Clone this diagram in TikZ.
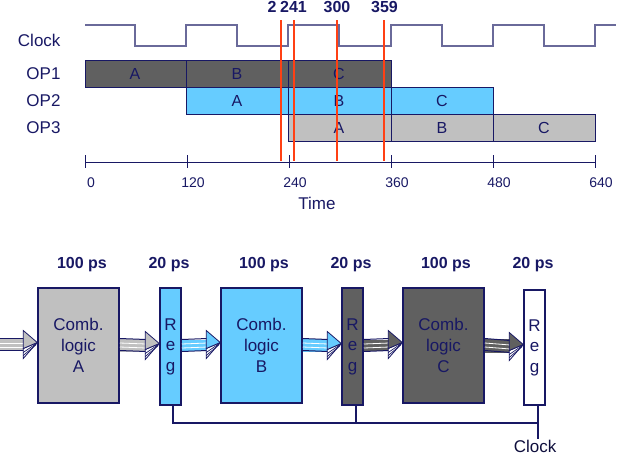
\documentclass[tikz,border=0pt]{standalone}
\usepackage{fontspec}
\setmainfont{Liberation Sans}
\usetikzlibrary{calc}
\definecolor{navy}{RGB}{24,24,100}
\definecolor{dgray}{RGB}{96,96,96}
\definecolor{lblue}{RGB}{102,204,255}
\definecolor{lgray}{RGB}{192,192,192}
\definecolor{redl}{RGB}{255,64,20}
\definecolor{clkc}{RGB}{106,106,154}
\newcommand{\fs}[1]{\fontsize{#1}{#1}\selectfont}
\tikzset{
  bar/.style={draw=navy, line width=1pt},
  barlbl/.style={text=navy, font=\fs{16}},
  rowlbl/.style={text=navy, font=\fs{17}, anchor=east},
  ticklbl/.style={text=navy, font=\fs{14}},
  toplbl/.style={text=navy, font=\bfseries\fs{16}, anchor=base},
  redline/.style={draw=redl, line width=1.6pt},
  comb/.style={draw=navy, line width=1.5pt, minimum width=81pt, minimum height=115pt, align=center, text=navy, font=\fontsize{17}{21}\selectfont, inner sep=0pt},
  reg/.style={draw=navy, line width=1.5pt, minimum width=21pt, minimum height=117pt, align=center, text=navy, font=\fontsize{17}{20.5}\selectfont, inner sep=0pt},
  delay/.style={text=navy, font=\bfseries\fs{16}},
  wire/.style={draw=navy, line width=1.3pt},
}
% fat arrow: from anchor #1 to anchor #2, colour #3
\newcommand{\fatarr}[3]{%
  \path (#1) coordinate (fa0) (#2) coordinate (fa1);
  \fill[#3] ($(fa0)+(0,-7)$) rectangle ($(fa1)+(-13,5)$);
  \draw[white, line width=0.8pt] ($(fa0)+(0,-2.5)$) -- ($(fa1)+(-13,-2.5)$);
  \draw[white, line width=0.8pt] ($(fa0)+(0,1.5)$) -- ($(fa1)+(-13,1.5)$);
  \draw[navy, line width=1pt] ($(fa0)+(0,-7)$) -- ($(fa1)+(-13,-7)$);
  \draw[navy, line width=1pt] ($(fa0)+(0,5)$) -- ($(fa1)+(-13,5)$);
  \filldraw[fill=white, draw=navy, line width=0.8pt, line join=miter] ($(fa1)+(-14,3)$) -- ($(fa1)+(0,-3)$) -- ($(fa1)+(-14,13)$) -- cycle;
  \draw[navy, line width=0.7pt] ($(fa1)+(-14,7)$) -- ($(fa1)+(-1,-2)$);
  \draw[navy, line width=0.7pt] ($(fa1)+(-14,10)$) -- ($(fa1)+(-1,-1)$);
  \filldraw[fill=#3, draw=navy, line width=0.8pt, line join=miter] ($(fa1)+(-14,-15)$) -- ($(fa1)+(0,-3)$) -- ($(fa1)+(-14,3)$) -- cycle;
}
\begin{document}
\begin{tikzpicture}[x=1pt,y=-1pt]
\useasboundingbox (0,0) rectangle (619,456);
% ---------- timing diagram ----------
\node[rowlbl] (lclk) at (64,40) {Clock};
\node[rowlbl] (lop1) at (64,74) {OP1};
\node[rowlbl] (lop2) at (64,101) {OP2};
\node[rowlbl] (lop3) at (64,128) {OP3};
% clock waveform
\draw[clkc, line width=1.2pt] (85,25) -- (135,25) -- (135,46) -- (186,46) -- (186,25) -- (237,25) -- (237,46) -- (288,46) -- (288,25) -- (339,25) -- (339,46) -- (391,46) -- (391,25) -- (442,25) -- (442,46) -- (493,46) -- (493,25) -- (544,25) -- (544,46) -- (595,46) -- (595,25) -- (616,25);
% OP1
\draw[bar, fill=dgray] (85,60) rectangle (186,87);
\draw[bar, fill=dgray] (186,60) rectangle (288,87);
\draw[bar, fill=dgray] (288,60) rectangle (391,87);
% OP2
\draw[bar, fill=lblue] (186,87) rectangle (288,114);
\draw[bar, fill=lblue] (288,87) rectangle (391,114);
\draw[bar, fill=lblue] (391,87) rectangle (493,114);
% OP3
\draw[bar, fill=lgray] (288,114) rectangle (391,141);
\draw[bar, fill=lgray] (391,114) rectangle (493,141);
\draw[bar, fill=lgray] (493,114) rectangle (595,141);
% bar labels
\node[barlbl] (o1a) at (135,74) {A};
\node[barlbl] (o1b) at (237,74) {B};
\node[barlbl] (o1c) at (339,74) {C};
\node[barlbl] (o2a) at (237,101) {A};
\node[barlbl] (o2b) at (339,101) {B};
\node[barlbl] (o2c) at (442,101) {C};
\node[barlbl] (o3a) at (339,128) {A};
\node[barlbl] (o3b) at (442,128) {B};
\node[barlbl] (o3c) at (544,128) {C};
% axis
\draw[navy, line width=1pt] (85,162) -- (595,162);
\foreach \x/\l in {85/0,187/120,289/240,391/360,493/480,595/640}{
  \draw[navy, line width=1pt] (\x,155) -- (\x,168);
  \node[ticklbl] at (\x+6,183) {\l};
}
\node[text=navy, font=\fs{17}] (tlbl) at (317,203) {Time};
% red lines
\draw[redline] (281,20) -- (281,161);
\draw[redline] (294,20) -- (294,161);
\draw[redline] (337,20) -- (337,161);
\draw[redline] (384,20) -- (384,161);
\node[toplbl] (t1) at (272,12) {2};
\node[toplbl] (t2) at (293.5,12) {241};
\node[toplbl] (t3) at (337,12) {300};
\node[toplbl] (t4) at (384.5,12) {359};
% ---------- pipeline ----------
\node[delay] (d1) at (82,265) {100 ps};
\node[delay] (d2) at (169,265) {20 ps};
\node[delay] (d3) at (264,265) {100 ps};
\node[delay] (d4) at (351,265) {20 ps};
\node[delay] (d5) at (446,265) {100 ps};
\node[delay] (d6) at (533,265) {20 ps};
\node[comb, fill=lgray] (cA) at (78.5,345.5) {Comb.\\logic\\A};
\node[reg, fill=lblue] (r1) at (170.5,346.5) {R\\e\\g};
\node[comb, fill=lblue] (cB) at (261.5,345.5) {Comb.\\logic\\B};
\node[reg, fill=dgray] (r2) at (352.5,346.5) {R\\e\\g};
\node[comb, fill=dgray] (cC) at (443.5,345.5) {Comb.\\logic\\C};
\node[reg, fill=white, minimum height=115pt] (r3) at (534.5,347.5) {R\\e\\g};
\coordinate (in) at (0,345.5);
\fatarr{in}{cA.west}{lgray}
\fatarr{cA.east}{r1.west}{lgray}
\fatarr{r1.east}{cB.west}{lblue}
\fatarr{cB.east}{r2.west}{lblue}
\fatarr{r2.east}{cC.west}{dgray}
\fatarr{cC.east}{r3.west}{dgray}
% clock wiring
\coordinate (k1) at (173,423);
\coordinate (k2) at (356,423);
\coordinate (k3) at (538,423);
\node[font=\fs{17}, text=navy!60!black, inner sep=1pt] (clk) at (535,446) {Clock};
\draw[wire] (k1 |- r1.south) -- (k1) -- (k3);
\draw[wire] (k2 |- r2.south) -- (k2);
\draw[wire] (k3 |- r3.south) -- (k3) -- (k3 |- clk.north);
\end{tikzpicture}
\end{document}
